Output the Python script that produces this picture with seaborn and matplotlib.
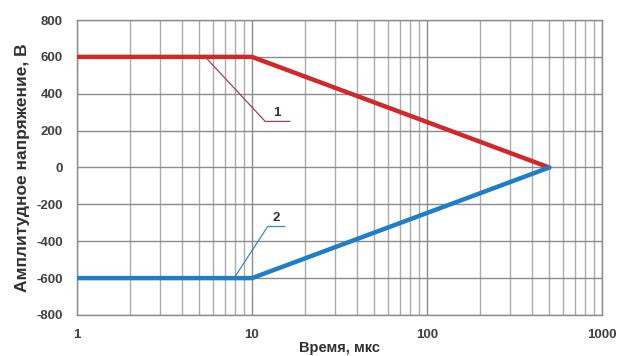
import matplotlib
matplotlib.use("Agg")
import matplotlib.pyplot as plt
import pandas as pd
import seaborn as sns
from matplotlib.ticker import FixedLocator, LogLocator, NullFormatter

# curve 1 (positive) and curve 2 (negative), time in microseconds
time_us = [1, 10, 500]
voltage_1 = [600, 600, 0]
voltage_2 = [-600, -600, 0]

# leader lines for the curve labels: start on curve -> elbow -> end
leader_1_x = [5.4, 11.9, 16.5]
leader_1_y = [600, 250, 250]
leader_2_x = [7.9, 12.3, 15.4]
leader_2_y = [-600, -320, -320]

y_ticks = [-800, -600, -400, -200, 0, 200, 400, 600, 800]
x_ticks = [1, 10, 100, 1000]


def main() -> None:
    sns.set_theme(style="white")
    plt.rcParams["font.family"] = ["Liberation Sans", "DejaVu Sans"]

    df = pd.DataFrame({
        "t": time_us * 2,
        "u": voltage_1 + voltage_2,
        "curve": ["1"] * len(time_us) + ["2"] * len(time_us),
    })

    fig = plt.figure(figsize=(6.19, 3.56), dpi=100)
    ax = fig.add_axes([0.1244, 0.1152, 0.848, 0.8286])

    sns.lineplot(
        data=df, x="t", y="u", hue="curve",
        palette={"1": "#d0282b", "2": "#1f7ec6"},
        linewidth=3.2, legend=False, ax=ax, zorder=3,
    )
    ax.set_xscale("log")
    ax.set_xlim(1, 1000)
    ax.set_ylim(-800, 800)

    # leader lines with labels
    ax.plot(leader_1_x, leader_1_y, color="#a0405a", linewidth=0.9, zorder=2)
    ax.plot(leader_2_x, leader_2_y, color="#3a87c8", linewidth=0.9, zorder=2)
    ax.text(13.8, 265, "1", fontsize=9.5, fontweight="bold", color="#303030",
            ha="center", va="bottom")
    ax.text(13.8, -305, "2", fontsize=9.5, fontweight="bold", color="#303030",
            ha="center", va="bottom")

    ax.xaxis.set_major_locator(FixedLocator(x_ticks))
    ax.xaxis.set_minor_locator(LogLocator(base=10, subs=range(2, 10)))
    ax.xaxis.set_minor_formatter(NullFormatter())
    ax.set_xticks(x_ticks)
    ax.set_xticklabels([str(v) for v in x_ticks])
    ax.set_yticks(y_ticks)
    ax.set_yticklabels([str(v) for v in y_ticks])

    ax.grid(True, which="major", axis="both", color="#8c8c8c", linewidth=1.0)
    ax.grid(True, which="minor", axis="x", color="#acacac", linewidth=1.0)
    ax.set_axisbelow(True)

    for spine in ax.spines.values():
        spine.set_color("#8c8c8c")
        spine.set_linewidth(1.0)

    ax.tick_params(axis="both", which="major", labelsize=9.5, colors="#404040",
                   length=4, width=1.0, direction="out", pad=6)
    ax.tick_params(axis="both", which="minor", length=0)
    for lab in ax.get_xticklabels() + ax.get_yticklabels():
        lab.set_fontweight("bold")

    ax.set_xlabel("Время, мкс", fontsize=10.5, fontweight="bold",
                  color="#303030", labelpad=0)
    ax.set_ylabel("Амплитудное напряжение, В", fontsize=12.5,
                  fontweight="bold", color="#303030", labelpad=5)

    fig.savefig("out.png", dpi=100)
    plt.close(fig)


if __name__ == "__main__":
    main()
